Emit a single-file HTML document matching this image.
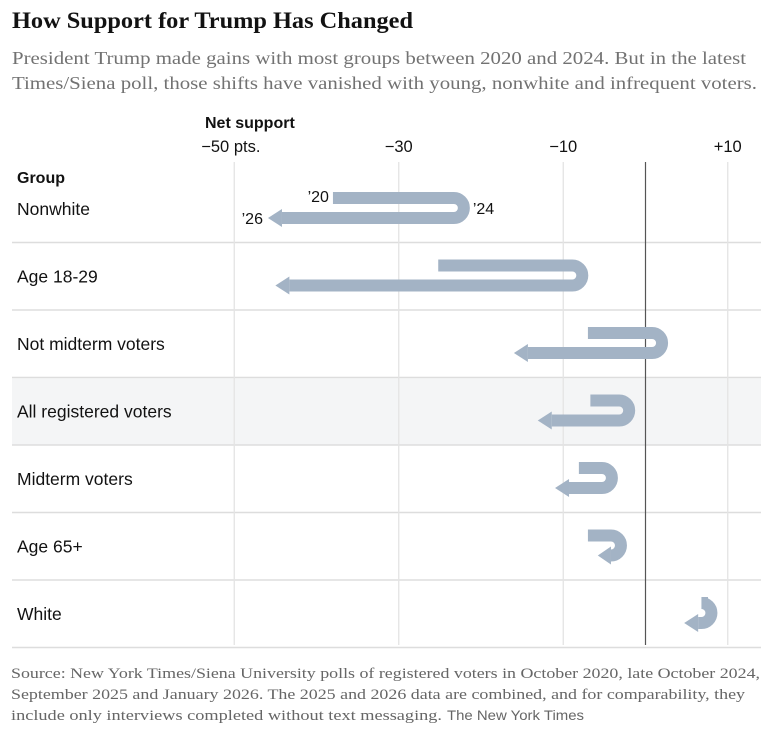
<!DOCTYPE html>
<html><head><meta charset="utf-8"><style>
body{margin:0;background:#fff;}
svg{display:block;}
.serif{font-family:"Liberation Serif",serif;}
.sans{font-family:"Liberation Sans",sans-serif;}
</style></head><body>
<svg id="chart" width="773" height="738" viewBox="0 0 773 738">
<text class="serif" x="12" y="28" font-size="23" font-weight="bold" fill="#121212" textLength="401" lengthAdjust="spacingAndGlyphs">How Support for Trump Has Changed</text>
<g>
<text class="serif" x="12" y="64" font-size="18" fill="#727272" textLength="734" lengthAdjust="spacingAndGlyphs">President Trump made gains with most groups between 2020 and 2024. But in the latest</text>
<text class="serif" x="12" y="89" font-size="18" fill="#727272" textLength="745" lengthAdjust="spacingAndGlyphs">Times/Siena poll, those shifts have vanished with young, nonwhite and infrequent voters.</text>
</g>
<g id="rows"></g>
<g id="grid"></g>
<g id="marks"></g>
<text class="sans" x="205" y="128" font-size="16" font-weight="bold" fill="#121212">Net support</text>
<text class="sans" x="17" y="183" font-size="16" font-weight="bold" fill="#121212">Group</text>
<g>
<text class="serif" x="11" y="678" font-size="15" fill="#666" textLength="749" lengthAdjust="spacingAndGlyphs">Source: New York Times/Siena University polls of registered voters in October 2020, late October 2024,</text>
<text class="serif" x="11" y="699" font-size="15" fill="#666" textLength="734" lengthAdjust="spacingAndGlyphs">September 2025 and January 2026. The 2025 and 2026 data are combined, and for comparability, they</text>
<text class="serif" x="11" y="720" font-size="15" fill="#666" textLength="431" lengthAdjust="spacingAndGlyphs">include only interviews completed without text messaging.</text>
<text class="sans" x="447" y="720" font-size="14" fill="#666" textLength="137" lengthAdjust="spacingAndGlyphs">The New York Times</text>
</g>
</svg>
<script>
const groups=["Nonwhite","Age 18-29","Not midterm voters","All registered voters","Midterm voters","Age 65+","White"];
const v2020=[-38.0,-25.2,-7.0,-6.7,-8.1,-7.0,7.6];
const v2024=[-23.3,-8.9,0.8,-3.2,-5.3,-4.2,6.8];
const v2026=[-45.9,-45.0,-16.0,-13.1,-11.0,-5.8,4.7];
const ticks=[-50,-30,-10,10];
const tickLabels=["\u221250 pts.","\u221230","\u221210","+10"];

const NS="http://www.w3.org/2000/svg";
const svg=document.getElementById('chart');
const X=v=>645.5+v*8.225;
const rowTop=i=>175+i*67.5;
function mk(tag,attrs,parent){const e=document.createElementNS(NS,tag);for(const k in attrs)e.setAttribute(k,attrs[k]);parent.appendChild(e);return e;}
const rowsG=document.getElementById('rows'),gridG=document.getElementById('grid'),marksG=document.getElementById('marks');

groups.forEach((g,i)=>{
  const y0=rowTop(i);
  if(i===3){const bg=mk('rect',{x:12,y:y0+1,width:749,height:67,fill:'#f4f5f6'},rowsG);
    
    }
  const t=mk('text',{x:17,y:y0+40,'font-size':17.5,fill:'#121212','class':'sans'},rowsG);t.textContent=g;
  
  
  const ln=mk('line',{x1:12,x2:761,y1:y0+67.5,y2:y0+67.5,stroke:'#ddd','stroke-width':1.5},rowsG);
  
  
});

ticks.forEach((t,i)=>{
  const l=mk('line',{x1:X(t),x2:X(t),y1:162,y2:645,stroke:'#e4e4e4','stroke-width':1.3},gridG);
  
  
  const tx=mk('text',{x:X(t)+(i===0?-33:0),y:152,'font-size':16.5,fill:'#121212','class':'sans','text-anchor':i===0?'start':'middle'},gridG);
  tx.textContent=tickLabels[i];
  
  
});
const z=mk('line',{x1:X(0),x2:X(0),y1:162,y2:645,stroke:'#555','stroke-width':1.2},gridG);



const C='#a3b3c5',SW=12,R=10,HL=14,HH=9;
groups.forEach((g,i)=>{
  const yt=rowTop(i)+23,yb=yt+2*R;
  const a=X(v2020[i]),b=X(v2024[i]),c=X(v2026[i]);
  const gg=mk('g',{},marksG);
  
  
  const tail=Math.min(c+HL,b);
  mk('path',{d:`M${a},${yt} L${b},${yt} A${R},${R} 0 0 1 ${b},${yb} L${tail},${yb}`,fill:'none',stroke:C,'stroke-width':SW},gg);
  const hx=Math.min(c+HL,b);
  mk('path',{d:`M${c},${yb} L${hx},${yb-HH} L${hx},${yb+HH} Z`,fill:C},gg);
  if(i===0){
    const lbl=[["\u201920",a-4,yt+4,'end'],["\u201924",b+R+9,yt+16,'start'],["\u201926",c-5,yb+6,'end']];
    lbl.forEach(l=>{const t=mk('text',{x:l[1],y:l[2],'font-size':16,fill:'#121212','class':'sans','text-anchor':l[3]},gg);t.textContent=l[0];
      
      });
  }
});
</script>
</body></html>
